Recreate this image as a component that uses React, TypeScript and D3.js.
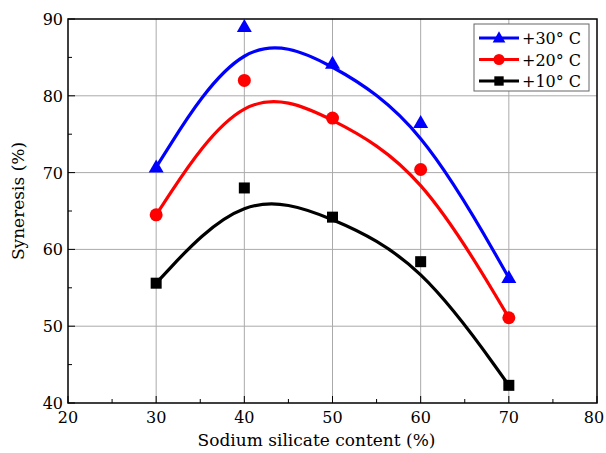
import React from "react";
import * as d3 from "d3";

const xValues = [30, 40, 50, 60, 70];
const s30 = [70.7, 89.0, 84.2, 76.5, 56.3];
const s20 = [64.5, 82.0, 77.1, 70.4, 51.1];
const s10 = [55.6, 68.0, 64.2, 58.4, 42.3];
const seriesNames = ["+30°C", "+20°C", "+10°C"];
const xTicks = [20, 30, 40, 50, 60, 70, 80];
const yTicks = [40, 50, 60, 70, 80, 90];

const W = 606, H = 453;
const M = { left: 68, right: 597, top: 19, bottom: 403 };

export default function App() {
  const x = d3.scaleLinear().domain([20, 80]).range([M.left, M.right]);
  const y = d3.scaleLinear().domain([40, 90]).range([M.bottom, M.top]);
  const series = [
    { name: seriesNames[0], vals: s30, color: "#0000ff", marker: "tri" },
    { name: seriesNames[1], vals: s20, color: "#ff0000", marker: "circ" },
    { name: seriesNames[2], vals: s10, color: "#000000", marker: "sq" },
  ];
  const line = d3.line<number>().x((_, i) => x(xValues[i])).y(d => y(d)).curve(d3.curveBasis);
  const marker = (kind: string, cx: number, cy: number, color: string, key: string | number, s = 1) => {
    if (kind === "tri") {
      const h = 13 * s, w = 15 * s;
      return <path key={key} d={`M${cx},${cy - h * 0.6}L${cx + w / 2},${cy + h * 0.4}L${cx - w / 2},${cy + h * 0.4}Z`} fill={color} />;
    }
    if (kind === "circ") return <circle key={key} cx={cx} cy={cy} r={6.5 * s} fill={color} />;
    const a = 11 * s;
    return <rect key={key} x={cx - a / 2} y={cy - a / 2} width={a} height={a} fill={color} />;
  };
  const font = "'DejaVu Serif', 'Liberation Serif', serif";
  const minorX = d3.range(25, 80, 10);
  const minorY = d3.range(45, 90, 10);
  return (
    <svg width={W} height={H} style={{ position: "absolute", left: 0, top: 0, fontFamily: font }}>
      <rect x={0} y={0} width={W} height={H} fill="#fff" />
      {xTicks.slice(1, -1).map(v => (
        <line key={"gx" + v} x1={x(v)} x2={x(v)} y1={M.top} y2={M.bottom} stroke="#aaa" strokeWidth={1} />
      ))}
      {yTicks.slice(1, -1).map(v => (
        <line key={"gy" + v} x1={M.left} x2={M.right} y1={y(v)} y2={y(v)} stroke="#aaa" strokeWidth={1} />
      ))}
      {minorX.map(v => (
        <line key={"mx" + v} x1={x(v)} x2={x(v)} y1={M.bottom} y2={M.bottom - 4} stroke="#000" />
      ))}
      {minorY.map(v => (
        <line key={"my" + v} x1={M.left} x2={M.left + 4} y1={y(v)} y2={y(v)} stroke="#000" />
      ))}
      {xTicks.map(v => (
        <line key={"tx" + v} x1={x(v)} x2={x(v)} y1={M.bottom} y2={M.bottom - 7} stroke="#000" />
      ))}
      {yTicks.map(v => (
        <line key={"ty" + v} x1={M.left} x2={M.left + 7} y1={y(v)} y2={y(v)} stroke="#000" />
      ))}
      <rect x={M.left} y={M.top} width={M.right - M.left} height={M.bottom - M.top} fill="none" stroke="#000" strokeWidth={1.5} />
      {series.map(s => (
        <path key={"l" + s.name} d={line(s.vals) || ""} fill="none" stroke={s.color} strokeWidth={3.2} />
      ))}
      {series.map(s => s.vals.map((v, i) => marker(s.marker, x(xValues[i]), y(v), s.color, s.name + i)))}
      {xTicks.map(v => (
        <text key={"xl" + v} x={Math.min(x(v), 594)} y={M.bottom + 20} textAnchor="middle" fontSize={16}>{v}</text>
      ))}
      {yTicks.map(v => (
        <text key={"yl" + v} x={M.left - 5} y={y(v) + 6} textAnchor="end" fontSize={16}>{v}</text>
      ))}
      <text x={(M.left + M.right) / 2 - 16} y={446} textAnchor="middle" fontSize={17}>Sodium silicate content (%)</text>
      <text transform={`translate(24,201) rotate(-90)`} textAnchor="middle" fontSize={17}>Syneresis (%)</text>
      <g>
        <rect x={474} y={24} width={115} height={67} fill="#fff" stroke="#666" strokeWidth={1} />
        {series.map((s, i) => {
          const cy = 38 + i * 21.5;
          return (
            <g key={"lg" + s.name}>
              <line x1={479} x2={519} y1={cy} y2={cy} stroke={s.color} strokeWidth={3.2} />
              {marker(s.marker, 499, cy, s.color, "lm" + i, 0.85)}
              <text x={522} y={cy + 6} fontSize={16}>{s.name.replace("°", "° ")}</text>
            </g>
          );
        })}
      </g>
    </svg>
  );
}
